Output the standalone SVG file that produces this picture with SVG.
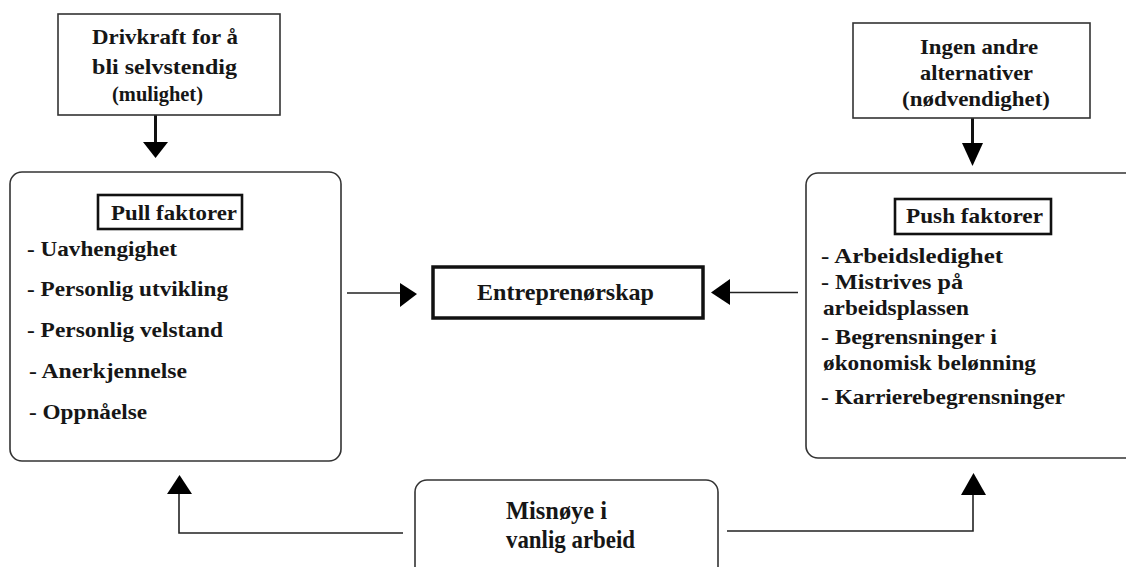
<svg xmlns="http://www.w3.org/2000/svg" width="1126" height="567" viewBox="0 0 1126 567">
  <style>
    .box { fill: #fff; stroke: #333; stroke-width: 1.6; }
    .title { fill: #fff; stroke: #111; stroke-width: 2.6; }
    .main { fill: #fff; stroke: #111; stroke-width: 3.5; }
    .t { font-family: "Liberation Serif", "Times New Roman", serif; font-weight: bold; font-size: 22px; fill: #161616; }
    .lg { font-size: 23px; }
    .xl { font-size: 25px; }
    .wire { fill: none; stroke: #222; stroke-width: 1.6; }
    .feed { fill: none; stroke: #111; stroke-width: 3; }
    .head { fill: #000; }
  </style>

  <rect width="1126" height="567" fill="#fff"/>

  <!-- connectors -->
  <g id="connectors">
    <!-- opportunity -> pull -->
    <line class="feed" x1="155.5" y1="115" x2="155.5" y2="143"/>
    <polygon class="head" points="143,142 168,142 155.5,158"/>
    <!-- necessity -> push -->
    <line class="feed" x1="972.5" y1="118" x2="972.5" y2="144"/>
    <polygon class="head" points="962,143 983,143 972.5,166"/>
    <!-- pull -> entrepreneurship -->
    <line class="wire" x1="347" y1="293" x2="401" y2="293"/>
    <polygon class="head" points="400,283 417,294 400,307"/>
    <!-- push -> entrepreneurship -->
    <line class="wire" x1="729" y1="292.5" x2="798" y2="292.5"/>
    <polygon class="head" points="730,279 711,292.5 730,305"/>
    <!-- dissatisfaction -> pull -->
    <polyline class="wire" points="403,533 179,533 179,493"/>
    <polygon class="head" points="167,494 192,494 179.5,475"/>
    <!-- dissatisfaction -> push -->
    <polyline class="wire" points="727,531 973,531 973,494"/>
    <polygon class="head" points="961,495 986,495 973.5,473"/>
  </g>

  <g id="opportunity">
    <rect class="box" x="58" y="14" width="222" height="101"/>
    <text class="t" x="92" y="44" textLength="146" lengthAdjust="spacingAndGlyphs">Drivkraft for å</text>
    <text class="t" x="92" y="74" textLength="145" lengthAdjust="spacingAndGlyphs">bli selvstendig</text>
    <text class="t" x="112" y="101" textLength="91" lengthAdjust="spacingAndGlyphs">(mulighet)</text>
  </g>

  <g id="necessity">
    <rect class="box" x="853" y="23" width="237" height="95"/>
    <text class="t" x="920" y="54" textLength="118" lengthAdjust="spacingAndGlyphs">Ingen andre</text>
    <text class="t" x="920" y="80" textLength="113" lengthAdjust="spacingAndGlyphs">alternativer</text>
    <text class="t" x="902" y="106" textLength="148" lengthAdjust="spacingAndGlyphs">(nødvendighet)</text>
  </g>

  <g id="pull">
    <rect class="box" x="10" y="172" width="331" height="289" rx="12"/>
    <rect class="title" x="98" y="195" width="144" height="34"/>
    <text class="t" x="111" y="220" textLength="126" lengthAdjust="spacingAndGlyphs">Pull faktorer</text>
    <text class="t" x="27" y="256" textLength="150" lengthAdjust="spacingAndGlyphs">- Uavhengighet</text>
    <text class="t" x="27" y="296" textLength="201" lengthAdjust="spacingAndGlyphs">- Personlig utvikling</text>
    <text class="t" x="27" y="337" textLength="196" lengthAdjust="spacingAndGlyphs">- Personlig velstand</text>
    <text class="t" x="29" y="378" textLength="158" lengthAdjust="spacingAndGlyphs">- Anerkjennelse</text>
    <text class="t" x="29" y="419" textLength="118" lengthAdjust="spacingAndGlyphs">- Oppnåelse</text>
  </g>

  <g id="entrepreneurship">
    <rect class="main" x="433" y="267" width="270" height="51"/>
    <text class="t lg" x="477" y="300" textLength="177" lengthAdjust="spacingAndGlyphs">Entreprenørskap</text>
  </g>

  <g id="push">
    <rect class="box" x="806" y="173" width="340" height="285" rx="12"/>
    <rect class="title" x="895" y="199" width="156" height="35"/>
    <text class="t" x="906" y="223" textLength="137" lengthAdjust="spacingAndGlyphs">Push faktorer</text>
    <text class="t" x="821" y="263" textLength="182" lengthAdjust="spacingAndGlyphs">- Arbeidsledighet</text>
    <text class="t" x="821" y="289" textLength="142" lengthAdjust="spacingAndGlyphs">- Mistrives på</text>
    <text class="t" x="823" y="315" textLength="146" lengthAdjust="spacingAndGlyphs">arbeidsplassen</text>
    <text class="t" x="821" y="344" textLength="176" lengthAdjust="spacingAndGlyphs">- Begrensninger i</text>
    <text class="t" x="823" y="370" textLength="213" lengthAdjust="spacingAndGlyphs">økonomisk belønning</text>
    <text class="t" x="821" y="404" textLength="244" lengthAdjust="spacingAndGlyphs">- Karrierebegrensninger</text>
  </g>

  <g id="dissatisfaction">
    <rect class="box" x="415" y="480" width="303" height="110" rx="12"/>
    <text class="t xl" x="506" y="519" textLength="101" lengthAdjust="spacingAndGlyphs">Misnøye i</text>
    <text class="t xl" x="506" y="548" textLength="129" lengthAdjust="spacingAndGlyphs">vanlig arbeid</text>
  </g>
</svg>
